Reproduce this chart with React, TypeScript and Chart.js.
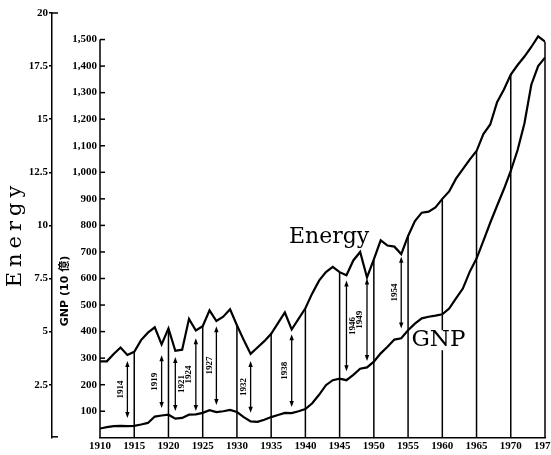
import React, { useEffect, useRef } from 'react';
import { Chart, registerables } from 'chart.js';

Chart.register(...registerables);

// ---------- data ----------
const years = [
  1910, 1911, 1912, 1913, 1914, 1915, 1916, 1917, 1918, 1919,
  1920, 1921, 1922, 1923, 1924, 1925, 1926, 1927, 1928, 1929,
  1930, 1931, 1932, 1933, 1934, 1935, 1936, 1937, 1938, 1939,
  1940, 1941, 1942, 1943, 1944, 1945, 1946, 1947, 1948, 1949,
  1950, 1951, 1952, 1953, 1954, 1955, 1956, 1957, 1958, 1959,
  1960, 1961, 1962, 1963, 1964, 1965, 1966, 1967, 1968, 1969,
  1970, 1971, 1972, 1973, 1974, 1975,
];

const energy = [
  3.6, 3.6, 3.95, 4.25, 3.9, 4.05, 4.6, 4.95, 5.2, 4.4,
  5.15, 4.1, 4.15, 5.6, 5.05, 5.25, 6.0, 5.5, 5.7, 6.05,
  5.3, 4.6, 3.95, 4.25, 4.55, 4.9, 5.4, 5.9, 5.1, 5.6,
  6.1, 6.8, 7.4, 7.8, 8.05, 7.8, 7.65, 8.35, 8.75, 7.55,
  8.4, 9.3, 9.05, 9.0, 8.65, 9.5, 10.2, 10.6, 10.65, 10.85,
  11.25, 11.6, 12.2, 12.65, 13.1, 13.5, 14.3, 14.75, 15.8, 16.4,
  17.1, 17.55, 17.95, 18.4, 18.9, 18.65,
];

const gnp = [
  35, 40, 44, 45, 44, 45, 50, 56, 80, 84,
  87, 72, 75, 87, 88, 94, 104, 97, 100, 105,
  97, 78, 62, 60, 68, 78, 86, 94, 93, 100,
  108, 130, 162, 198, 217, 223, 217, 237, 260, 265,
  287, 318, 343, 370, 375, 405, 430, 450, 456, 460,
  465, 487, 525, 562, 625, 675, 742, 810, 874, 937,
  1005, 1084, 1185, 1330, 1400, 1432,
];

const xTicks = [1910, 1915, 1920, 1925, 1930, 1935, 1940, 1945, 1950, 1955, 1960, 1965, 1970, 1975];
const energyTicks = [2.5, 5, 7.5, 10, 12.5, 15, 17.5, 20];
const gnpTicks = [100, 200, 300, 400, 500, 600, 700, 800, 900, 1000, 1100, 1200, 1300, 1400, 1500];

// recession arrows (values on the GNP scale)
const arrowYears = [1914, 1919, 1921, 1924, 1927, 1932, 1938, 1946, 1949, 1954];
const arrowTop = [289, 311, 304, 375, 420, 289, 390, 592, 600, 682];
const arrowBottom = [75, 112, 101, 101, 124, 94, 116, 251, 289, 412];

const energyLabel = { text: 'Energy', x: 1937.6, y: 735 };
const gnpLabel = { text: 'GNP', x: 1955.5, y: 345 };

const energyTitle = 'Energy';
const gnpTitle = 'GNP (10 億)';

const tickFont = { family: '"Liberation Serif", serif', size: 11, weight: 'bold' as const };

const decorPlugin = {
  id: 'decor',
  beforeDatasetsDraw(chart: any) {
    const { ctx, chartArea, scales } = chart;
    const x = scales.x, yE = scales.yE, yG = scales.yG;
    ctx.save();
    ctx.strokeStyle = '#000';
    ctx.fillStyle = '#000';
    ctx.lineWidth = 1.5;
    // drop lines every 5 years from energy curve to axis
    xTicks.forEach((yr, k) => {
      if (k === 0) return;
      const i = years.indexOf(yr);
      const px = x.getPixelForValue(yr);
      ctx.beginPath();
      ctx.moveTo(px, yE.getPixelForValue(energy[i]));
      ctx.lineTo(px, chartArea.bottom);
      ctx.stroke();
    });
    // arrows
    ctx.lineWidth = 1.3;
    arrowYears.forEach((yr, k) => {
      const px = x.getPixelForValue(yr);
      const t = yG.getPixelForValue(arrowTop[k]);
      const b = yG.getPixelForValue(arrowBottom[k]);
      ctx.beginPath();
      ctx.moveTo(px, t + 4);
      ctx.lineTo(px, b - 4);
      ctx.stroke();
      ctx.beginPath();
      ctx.moveTo(px, t);
      ctx.lineTo(px - 2.2, t + 6);
      ctx.lineTo(px + 2.2, t + 6);
      ctx.closePath();
      ctx.fill();
      ctx.beginPath();
      ctx.moveTo(px, b);
      ctx.lineTo(px - 2.2, b - 6);
      ctx.lineTo(px + 2.2, b - 6);
      ctx.closePath();
      ctx.fill();
      const side = yr % 5 === 1 ? 6 : -7;
      ctx.save();
      ctx.translate(px + side, (t + b) / 2);
      ctx.rotate(-Math.PI / 2);
      ctx.font = 'bold 9px "Liberation Serif", serif';
      ctx.textAlign = 'center';
      ctx.textBaseline = 'middle';
      ctx.fillText(String(yr), 0, 0);
      ctx.restore();
    });
    // white box behind GNP label
    ctx.font = '23px "DejaVu Serif", serif';
    const gx = x.getPixelForValue(gnpLabel.x);
    const gy = yG.getPixelForValue(gnpLabel.y);
    const gw = ctx.measureText(gnpLabel.text).width;
    ctx.fillStyle = '#fff';
    ctx.fillRect(gx - 2, gy - 16, gw + 4, 20);
    ctx.restore();
  },
  afterDraw(chart: any) {
    const { ctx, chartArea, scales } = chart;
    const x = scales.x, yE = scales.yE, yG = scales.yG;
    ctx.save();
    ctx.strokeStyle = '#000';
    ctx.fillStyle = '#000';
    ctx.lineWidth = 1.5;
    // GNP axis line and inward ticks
    const x0 = chartArea.left;
    ctx.beginPath();
    ctx.moveTo(x0, chartArea.bottom);
    ctx.lineTo(x0, yG.getPixelForValue(gnpTicks[gnpTicks.length - 1]));
    ctx.stroke();
    gnpTicks.forEach((v) => {
      const py = yG.getPixelForValue(v);
      ctx.beginPath();
      ctx.moveTo(x0, py);
      ctx.lineTo(x0 + 5, py);
      ctx.stroke();
    });
    // energy axis caps
    const ex = yE.right;
    [20, 0].forEach((v) => {
      const py = yE.getPixelForValue(v) - (v === 0 ? 1 : 0);
      ctx.beginPath();
      ctx.moveTo(ex - 0.75, py);
      ctx.lineTo(ex + 6, py);
      ctx.stroke();
    });
    // in-chart labels
    ctx.textAlign = 'left';
    ctx.textBaseline = 'alphabetic';
    ctx.font = '22px "DejaVu Serif", serif';
    ctx.fillText(energyLabel.text, x.getPixelForValue(energyLabel.x), yG.getPixelForValue(energyLabel.y));
    ctx.font = '23px "DejaVu Serif", serif';
    ctx.fillText(gnpLabel.text, x.getPixelForValue(gnpLabel.x), yG.getPixelForValue(gnpLabel.y));
    // axis titles
    ctx.save();
    ctx.translate(21, 234);
    ctx.rotate(-Math.PI / 2);
    ctx.font = '21px "DejaVu Serif", serif';
    (ctx as any).letterSpacing = '5px';
    const w = ctx.measureText(energyTitle).width;
    ctx.fillText(energyTitle, -w / 2, 0);
    ctx.restore();
    ctx.save();
    ctx.translate(68, 291);
    ctx.rotate(-Math.PI / 2);
    ctx.font = 'bold 11px "DejaVu Sans", "Noto Sans CJK JP", sans-serif';
    ctx.textAlign = 'center';
    ctx.fillText(gnpTitle, 0, 0);
    ctx.restore();
    ctx.restore();
  },
};

export default function App() {
  const ref = useRef<HTMLCanvasElement>(null);
  useEffect(() => {
    document.body.style.margin = '0';
    const chart = new Chart(ref.current as HTMLCanvasElement, {
      type: 'line',
      data: {
        datasets: [
          {
            label: 'Energy',
            data: years.map((yr, i) => ({ x: yr, y: energy[i] })),
            yAxisID: 'yE',
            borderColor: '#000',
            borderWidth: 2.2,
            pointRadius: 0,
            tension: 0,
          },
          {
            label: 'GNP',
            data: years.map((yr, i) => ({ x: yr, y: gnp[i] })),
            yAxisID: 'yG',
            borderColor: '#000',
            borderWidth: 2.2,
            pointRadius: 0,
            tension: 0,
          },
        ],
      },
      options: {
        animation: false,
        responsive: false,
        layout: { padding: { top: 13, right: 6, left: 0, bottom: 0 } },
        plugins: { legend: { display: false }, tooltip: { enabled: false } },
        scales: {
          x: {
            type: 'linear',
            position: 'bottom',
            min: 1910,
            max: 1975,
            afterBuildTicks: (s: any) => { s.ticks = xTicks.map((v) => ({ value: v })); },
            afterFit: (s: any) => { s.paddingLeft = 0; s.paddingRight = 0; },
            ticks: {
              autoSkip: false,
              maxRotation: 0,
              padding: 2,
              color: '#000',
              font: tickFont,
              callback: (v: any) => String(v),
            },
            grid: { display: false, drawTicks: false },
            border: { display: true, color: '#000', width: 1.5 },
          },
          yE: {
            type: 'linear',
            position: 'left',
            weight: 1,
            min: 0,
            max: 20,
            afterBuildTicks: (s: any) => { s.ticks = energyTicks.map((v) => ({ value: v })); },
            afterFit: (s: any) => { s.width = 52; },
            ticks: {
              padding: 1,
              color: '#000',
              font: tickFont,
              callback: (v: any) => String(v),
            },
            grid: { display: true, drawOnChartArea: false, drawTicks: true, tickLength: 3, color: '#000', lineWidth: 1.5 },
            border: { display: true, color: '#000', width: 1.5 },
          },
          yG: {
            type: 'linear',
            position: 'left',
            weight: 0,
            min: 0,
            max: 1600,
            afterBuildTicks: (s: any) => { s.ticks = gnpTicks.map((v) => ({ value: v })); },
            afterFit: (s: any) => { s.width = 48; },
            ticks: {
              padding: 3,
              color: '#000',
              font: tickFont,
              callback: (v: any) => Number(v).toLocaleString('en-US'),
            },
            grid: { display: false, drawTicks: false },
            border: { display: false },
          },
        },
      } as any,
      plugins: [decorPlugin],
    });
    return () => chart.destroy();
  }, []);
  return (
    <div style={{ width: 551, height: 455 }}>
      <canvas ref={ref} width={551} height={455} style={{ display: 'block' }} />
    </div>
  );
}
